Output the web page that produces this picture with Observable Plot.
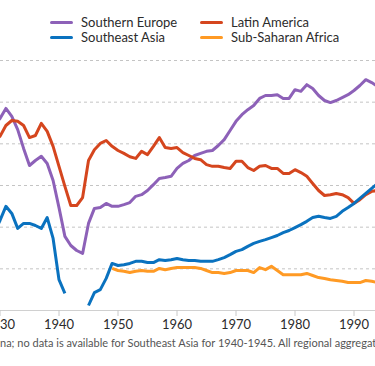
<!DOCTYPE html>
<html>
<head>
<meta charset="utf-8">
<script src="https://cdn.jsdelivr.net/npm/d3@7"></script>
<script src="https://cdn.jsdelivr.net/npm/@observablehq/plot@0.6"></script>
<style>
  html, body { margin: 0; padding: 0; background: #fff; }
  body { width: 375px; height: 366px; overflow: hidden; position: relative; font-family: Lato, "Open Sans", sans-serif; }
  .lg { position: absolute; font-size: 13px; color: #2b2b2b; white-space: nowrap; line-height: 16px; }
  .sw { position: absolute; width: 23px; height: 3px; border-radius: 1.5px; }
  #chart { position: absolute; left: -40.5px; top: 50px; }
  #caption { position: absolute; left: 0; top: 335px; font-size: 11px; color: #555; white-space: nowrap; line-height: 16px; }
</style>
</head>
<body>
<div id="legend"></div>
<div id="chart"></div>
<div id="caption"><span style="position:absolute;right:100%;">Note: regional averages exclude Chi</span>na; no data is available for Southeast Asia for 1940-1945. All regional aggregates are unweighted averages.</div>
<script>
const years = [1929, 1930, 1931, 1932, 1933, 1934, 1935, 1936, 1937, 1938, 1939,
  1940, 1941, 1942, 1943, 1944, 1945, 1946, 1947, 1948, 1949,
  1950, 1951, 1952, 1953, 1954, 1955, 1956, 1957, 1958, 1959,
  1960, 1961, 1962, 1963, 1964, 1965, 1966, 1967, 1968, 1969,
  1970, 1971, 1972, 1973, 1974, 1975, 1976, 1977, 1978, 1979,
  1980, 1981, 1982, 1983, 1984, 1985, 1986, 1987, 1988, 1989,
  1990, 1991, 1992, 1993, 1994, 1995];

const southernEurope = [44.4, 46.1, 48.5, 46.6, 43.4, 38.9, 34.8, 36.0, 37.0, 35.3, 31.2,
  24.7, 17.8, 15.6, 14.4, 13.7, 20.9, 24.5, 24.7, 25.7, 25.0,
  25.0, 25.4, 25.9, 27.4, 27.8, 28.8, 30.2, 31.7, 31.9, 32.2,
  34.1, 35.3, 36.0, 37.2, 37.7, 38.2, 38.4, 39.6, 41.0, 43.2,
  45.4, 47.0, 48.2, 49.2, 50.9, 51.6, 51.6, 51.8, 50.9, 50.9,
  53.0, 52.6, 54.2, 53.3, 51.6, 50.4, 49.9, 50.4, 51.1, 51.8,
  52.8, 54.0, 55.4, 54.7, 53.8, 53.3];

const latinAmerica = [40.8, 41.8, 44.4, 45.6, 45.4, 44.4, 41.5, 42.0, 44.9, 43.0, 39.4,
  34.6, 29.8, 25.2, 25.2, 27.1, 36.0, 38.6, 40.1, 40.8, 39.4,
  38.4, 37.7, 36.9, 36.5, 38.2, 37.4, 39.4, 41.5, 39.1, 38.9,
  39.1, 37.9, 37.2, 36.5, 36.2, 35.0, 34.6, 34.6, 34.3, 34.1,
  35.8, 35.8, 34.3, 33.6, 34.6, 34.8, 34.1, 34.1, 32.9, 32.9,
  33.8, 33.1, 32.2, 30.5, 28.8, 27.6, 27.8, 28.1, 27.8, 27.1,
  25.7, 26.6, 27.8, 28.6, 28.8, 28.8];

const southeastAsia = [18.7, 21.6, 25.0, 23.3, 19.7, 20.9, 20.9, 20.4, 19.7, 22.3, 17.3,
  7.4, 4.1, null, null, null, 1.2, 4.3, 5.0, 7.7, 11.3,
  10.8, 11.0, 11.3, 11.8, 11.8, 11.5, 11.5, 12.2, 12.0, 12.2,
  12.5, 12.2, 12.0, 12.0, 11.8, 11.8, 11.8, 12.2, 12.7, 13.4,
  14.2, 14.6, 15.4, 16.1, 16.6, 17.0, 17.5, 18.0, 18.7, 19.2,
  19.9, 20.6, 21.4, 22.3, 22.6, 22.3, 22.1, 22.6, 23.8, 24.7,
  25.7, 26.9, 28.1, 29.3, 30.5, 31.7];

const subSaharanAfrica = [null, null, null, null, null, null, null, null, null, null, null,
  null, null, null, null, null, null, null, null, null, 10.1,
  9.6, 9.4, 9.1, 9.4, 9.6, 9.4, 9.4, 10.1, 9.8, 10.1,
  10.3, 10.3, 10.3, 10.3, 10.1, 9.6, 9.1, 9.1, 8.9, 9.1,
  9.6, 9.6, 9.6, 9.1, 10.3, 9.8, 10.6, 9.6, 8.6, 8.6,
  8.6, 8.6, 8.9, 8.4, 7.9, 7.7, 7.4, 7.2, 7.0, 6.7,
  6.7, 6.7, 7.2, 7.0, 6.7, 6.7];

const seriesNames = ["Southern Europe", "Latin America", "Southeast Asia", "Sub-Saharan Africa"];
const seriesColors = ["#8d61b8", "#d5461e", "#0a72bf", "#ff9a24"];
const xTicks = [1930, 1940, 1950, 1960, 1970, 1980, 1990];
const yGrid = [10, 20, 30, 40, 50, 60];

const seriesValues = [southernEurope, latinAmerica, southeastAsia, subSaharanAfrica];
const rows = [];
seriesNames.forEach((name, s) => {
  years.forEach((yr, i) => {
    const v = seriesValues[s][i];
    rows.push({year: yr, value: v == null ? NaN : v, series: name});
  });
});

// legend
const legend = document.getElementById("legend");
const legendPos = [[50, 14], [200, 14], [50, 29], [200, 29]];
seriesNames.forEach((name, i) => {
  const [lx, ly] = legendPos[i];
  const sw = document.createElement("div");
  sw.className = "sw";
  sw.style.left = lx + "px";
  sw.style.top = (ly + 6.5) + "px";
  sw.style.background = seriesColors[i];
  legend.appendChild(sw);
  const t = document.createElement("div");
  t.className = "lg";
  t.style.left = (lx + 31) + "px";
  t.style.top = ly + "px";
  t.textContent = name;
  legend.appendChild(t);
});

const chart = Plot.plot({
  width: 462.5,
  height: 290,
  marginLeft: 10,
  marginRight: 10,
  marginTop: 10,
  marginBottom: 30,
  style: {fontFamily: "Lato, sans-serif", maxWidth: "none", overflow: "visible", background: "transparent"},
  x: {domain: [1925, 2000]},
  y: {domain: [0, 60], axis: null},
  color: {domain: seriesNames, range: seriesColors},
  marks: [
    Plot.ruleY(yGrid, {stroke: "#c4c4c4", strokeDasharray: "3,3", strokeWidth: 1}),
    Plot.ruleY([0], {stroke: "#d0d0d0", strokeWidth: 1.2}),
    Plot.axisX({ticks: xTicks, tickFormat: "d", tickSize: 6, tickPadding: 3, fontSize: 13, stroke: "#c8c8c8", fill: "#2b2b2b"}),
    Plot.line(rows, {x: "year", y: "value", z: "series", stroke: "series", strokeWidth: 3, strokeLinejoin: "round", strokeLinecap: "butt"})
  ]
});
document.getElementById("chart").appendChild(chart);
</script>
</body>
</html>
